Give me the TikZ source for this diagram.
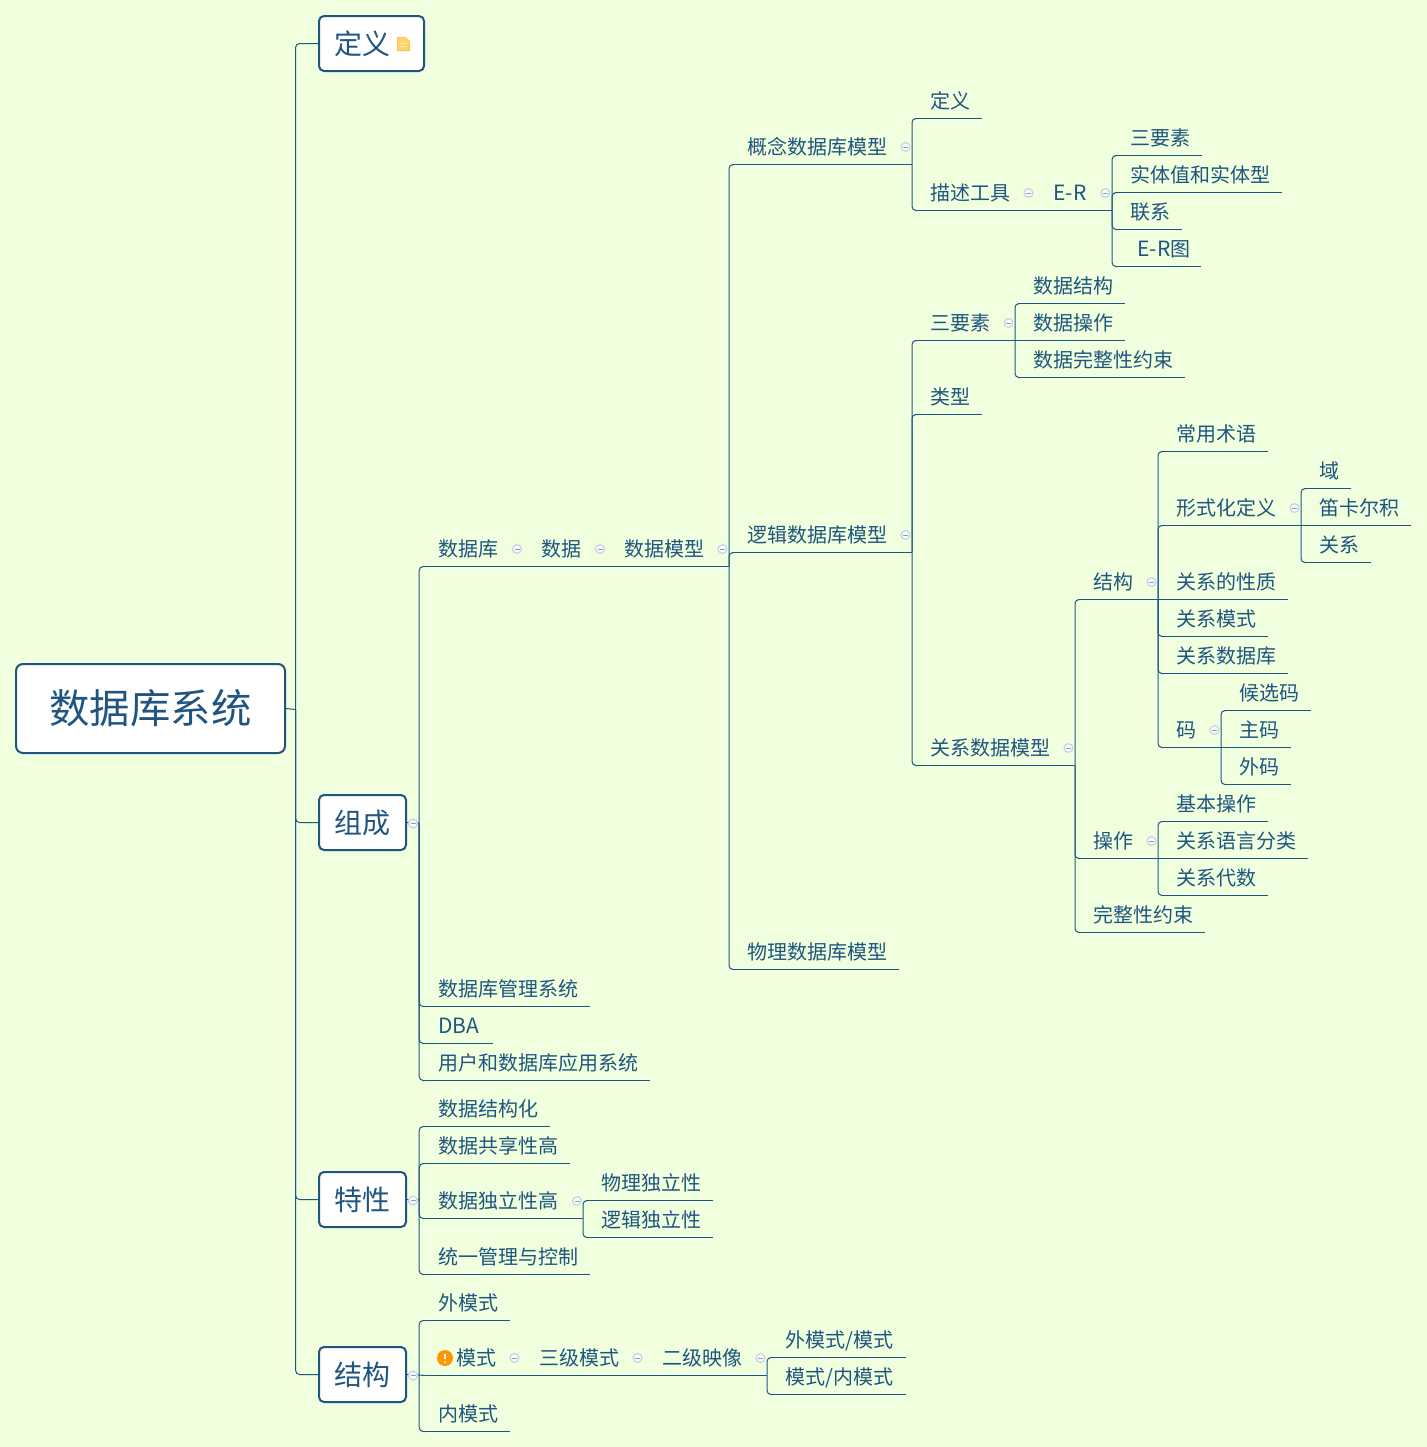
\documentclass[tikz,border=0pt]{standalone}
\usepackage{fontspec}
\setmainfont{Noto Sans CJK SC}
\definecolor{bgc}{HTML}{F0FFDD}
\definecolor{inkc}{HTML}{1F5580}
\definecolor{icoc}{HTML}{C6D0EE}
\definecolor{notec}{HTML}{FFD46B}
\definecolor{warnc}{HTML}{FF9500}
\newdimen\pxu \pxu=0.5pt
\newcommand{\lat}{\fontsize{10.5}{12}\selectfont}
\tikzset{
  base/.style={text=inkc,inner sep=0pt},
  topic/.style={base,anchor=south west,text height=9.25pt,text depth=4.75pt,font=\fontsize{10}{12}\selectfont},
  under/.style={draw=inkc,line width=0.5pt},
  conn/.style={draw=inkc,line width=0.5pt,rounded corners=2pt},
  rootbox/.style={base,draw=inkc,fill=white,line width=1pt,rounded corners=3.5pt,minimum width=134.5pt,minimum height=44.5pt,font=\fontsize{20.2}{24}\selectfont},
  mainbox/.style={base,draw=inkc,fill=white,line width=1pt,rounded corners=2.5pt,minimum height=27.5pt,font=\fontsize{14}{17}\selectfont},
  ico/.style={draw=icoc,line width=0.6pt,fill=white!60!bgc},
  icodash/.style={draw=icoc!60!inkc,line width=0.4pt},
}
\newcommand{\tp}[5][18]{%
  \pgfmathsetmacro\tmpw{(#4-#3)*0.5}%
  \pgfmathsetmacro\tmpx{#3-0.8}%
  \node[topic] (#2) at (\tmpx,#5) {\makebox[\tmpw pt][l]{\hspace*{0.4pt}\hspace*{#1\pxu}\csname tt#2\endcsname}};%
  \draw[under] ([xshift=2pt]#2.south west) -- (#2.south east);}
\newcommand{\T}[6][18]{\expandafter\def\csname tt#2\endcsname{#6}\tp[#1]{#2}{#3}{#4}{#5}}
\newcommand{\up}[2]{\draw[conn] (#1.south east) |- ([xshift=3pt]#2.south west);}
\newcommand{\str}[2]{\draw[under] (#1.south east) -- ([xshift=3pt]#2.south west);}
\newcommand{\cico}[2]{\draw[ico] (#1,#2) circle (2.2pt);\draw[icodash] (#1-2.5,#2) -- (#1+2.5,#2);}
\begin{document}
\begin{tikzpicture}[x=0.5pt,y=-0.5pt]
\useasboundingbox (0,0) rectangle (1427,1447);
\fill[bgc] (0,0) rectangle (1427,1447);
% main boxes
\node[rootbox] (root) at (150.5,708.5) {\raisebox{-1.5pt}{数据库系统}};
\node[mainbox,minimum width=52.5pt] (defn) at (371.5,43.5) {\makebox[52.5pt][l]{\hspace*{7.5pt}\raisebox{-0.4pt}{定义}}};
\node[mainbox,minimum width=43.5pt] (comp) at (362.5,822.5) {\raisebox{-0.4pt}{组成}};
\node[mainbox,minimum width=43.5pt] (feat) at (362.5,1199.5) {\raisebox{-0.4pt}{特性}};
\node[mainbox,minimum width=43.5pt] (stru) at (362.5,1374.5) {\raisebox{-0.4pt}{结构}};
\coordinate (trunk) at (295.6,709.5);
\coordinate (ctrunk) at (419.2,823);
\coordinate (ftrunk) at (419.2,1200);
\coordinate (strunk) at (419.2,1375);
\draw[under] (root.east) -- (trunk);
\foreach \b in {defn,comp,feat,stru}{\draw[conn] (trunk) |- (\b.west);}
% level 2 : composition
\T{db}{420}{523}{566.5}{数据库}
\T{da}{523}{606}{566.5}{数据}
\T{dm}{606}{729}{566.5}{数据模型}
\T{dbms}{420}{590}{1006.5}{数据库管理系统}
\T{dba}{420}{493}{1043.5}{\lat DBA}
\T{app}{420}{650}{1080.5}{用户和数据库应用系统}
\draw[under] (comp.east) -- (ctrunk);
\draw[conn] (ctrunk) |- ([xshift=3pt]db.south west);
\draw[conn] (ctrunk) |- ([xshift=3pt]dbms.south west);
\draw[conn] (ctrunk) |- ([xshift=3pt]dba.south west);
\draw[conn] (ctrunk) |- ([xshift=3pt]app.south west);
\str{db}{da}\str{da}{dm}
% models
\T{cm}{729}{912}{164.5}{概念数据库模型}
\T{lm}{729}{912}{552.5}{逻辑数据库模型}
\T{pm}{729}{899}{969.5}{物理数据库模型}
\up{dm}{cm}\up{dm}{lm}\up{dm}{pm}
% conceptual
\T{cd}{912}{982}{118.5}{定义}
\T{ct}{912}{1035}{210.5}{描述工具}
\T{er}{1035}{1112}{210.5}{\lat E-R}
\up{cm}{cd}\up{cm}{ct}\str{ct}{er}
\T{e1}{1112}{1202}{155.5}{三要素}
\T{e2}{1112}{1282}{192.5}{实体值和实体型}
\T{e3}{1112}{1182}{229.5}{联系}
\T[25]{e4}{1112}{1201}{266.5}{{\lat E-R}图}
\up{er}{e1}\up{er}{e2}\up{er}{e3}\up{er}{e4}
% logical
\T{l3}{912}{1015}{340.5}{三要素}
\T{lt}{912}{982}{414.5}{类型}
\T{rm}{912}{1075}{765.5}{关系数据模型}
\up{lm}{l3}\up{lm}{lt}\up{lm}{rm}
\T{d1}{1015}{1125}{303.5}{数据结构}
\T{d2}{1015}{1125}{340.5}{数据操作}
\T{d3}{1015}{1185}{377.5}{数据完整性约束}
\up{l3}{d1}\str{l3}{d2}\up{l3}{d3}
% relational
\T{rs}{1075}{1158}{599.5}{结构}
\T{ro}{1075}{1158}{858.5}{操作}
\T{ri}{1075}{1205}{932.5}{完整性约束}
\up{rm}{rs}\up{rm}{ro}\up{rm}{ri}
\T{s1}{1158}{1268}{451.5}{常用术语}
\T{s2}{1158}{1301}{525.5}{形式化定义}
\T{s3}{1158}{1288}{599.5}{关系的性质}
\T{s4}{1158}{1268}{636.5}{关系模式}
\T{s5}{1158}{1288}{673.5}{关系数据库}
\T{s6}{1158}{1221}{747.5}{码}
\up{rs}{s1}\up{rs}{s2}\str{rs}{s3}\up{rs}{s4}\up{rs}{s5}\up{rs}{s6}
\T{f1}{1301}{1351}{488.5}{域}
\T{f2}{1301}{1411}{525.5}{笛卡尔积}
\T{f3}{1301}{1371}{562.5}{关系}
\up{s2}{f1}\str{s2}{f2}\up{s2}{f3}
\T{k1}{1221}{1311}{710.5}{候选码}
\T{k2}{1221}{1291}{747.5}{主码}
\T{k3}{1221}{1291}{784.5}{外码}
\up{s6}{k1}\str{s6}{k2}\up{s6}{k3}
\T{o1}{1158}{1268}{821.5}{基本操作}
\T{o2}{1158}{1308}{858.5}{关系语言分类}
\T{o3}{1158}{1268}{895.5}{关系代数}
\up{ro}{o1}\str{ro}{o2}\up{ro}{o3}
% features
\T{t1}{420}{550}{1126.5}{数据结构化}
\T{t2}{420}{570}{1163.5}{数据共享性高}
\T{t3}{420}{583}{1218.5}{数据独立性高}
\T{t4}{420}{590}{1274.5}{统一管理与控制}
\draw[under] (feat.east) -- (ftrunk);
\foreach \c in {t1,t2,t3,t4}{\draw[conn] (ftrunk) |- ([xshift=3pt]\c.south west);}
\T{i1}{583}{713}{1200.5}{物理独立性}
\T{i2}{583}{713}{1237.5}{逻辑独立性}
\up{t3}{i1}\up{t3}{i2}
% structure
\T{w1}{420}{510}{1320.5}{外模式}
\T[36]{w2}{420}{521}{1375.5}{模式}
\T{w3}{521}{644}{1375.5}{三级模式}
\T{w4}{644}{767}{1375.5}{二级映像}
\T{w5}{420}{510}{1431.5}{内模式}
\draw[under] (stru.east) -- (strunk);
\draw[conn] (strunk) |- ([xshift=3pt]w1.south west);
\draw[conn] (strunk) |- ([xshift=3pt]w5.south west);
\draw[under] (strunk) -- ([xshift=3pt]w2.south west);
\str{w2}{w3}\str{w3}{w4}
\T{m1}{767}{906}{1357.5}{外模式/模式}
\T{m2}{767}{906}{1394.5}{模式/内模式}
\up{w4}{m1}\up{w4}{m2}
% collapse markers
\cico{413}{823.5}\cico{413}{1200.5}\cico{413}{1375.5}
\cico{517}{549}\cico{600}{549}\cico{722.5}{549}
\cico{905.5}{147}\cico{905.5}{535}
\cico{1028.5}{193}\cico{1105.5}{193}
\cico{1008.5}{323}\cico{1068.5}{748}
\cico{1151.5}{582}\cico{1151.5}{841}
\cico{1294.5}{508}\cico{1214.5}{730}
\cico{577}{1201}
\cico{514.5}{1358}\cico{637.5}{1358}\cico{760.5}{1358}
% note icon
\draw[draw=notec!80!orange,fill=notec,line width=0.5pt,line join=round] (397.5,37.5) -- (405.5,37.5) -- (409.5,41.5) -- (409.5,50.5) -- (397.5,50.5) -- cycle;
\draw[draw=white!50!notec,line width=0.4pt] (400,43) -- (407,43) (400,46) -- (407,46);
% warning icon
\fill[warnc] (445,1358) circle (4pt);
\draw[white,line width=1pt] (445,1353.5) -- (445,1359);
\fill[white] (445,1362) circle (0.6pt);
\end{tikzpicture}
\end{document}
